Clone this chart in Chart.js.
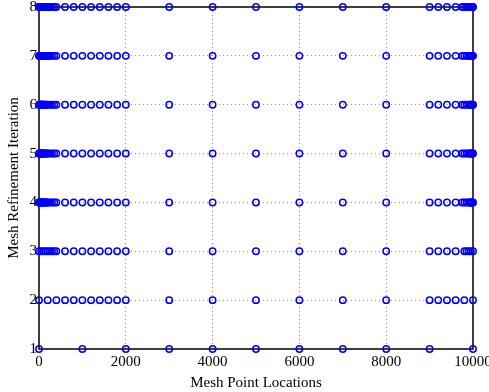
<!DOCTYPE html>
<html>
<head>
<meta charset="utf-8">
<script src="https://cdn.jsdelivr.net/npm/chart.js@4"></script>
<style>
  html, body { margin: 0; padding: 0; background: #fff; }
  #wrap { width: 489px; height: 392px; }
</style>
</head>
<body>
<div id="wrap"><canvas id="myChart" width="489" height="392"></canvas></div>
<script>
// mesh point locations per refinement iteration
const iterations = [1, 2, 3, 4, 5, 6, 7, 8];
const xTicks = [0, 2000, 4000, 6000, 8000, 10000];
const yTicks = [1, 2, 3, 4, 5, 6, 7, 8];

const mesh1 = [0, 1000, 2000, 3000, 4000, 5000, 6000, 7000, 8000, 9000, 10000];
const middle = [3000, 4000, 5000, 6000, 7000, 8000];

const left2 = [0, 200, 400, 600, 800, 1000, 1200, 1400, 1600, 1800, 2000];
const right2 = [9000, 9200, 9400, 9600, 9800, 10000];

const left3 = [0, 50, 100, 150, 200, 250, 300, 350, 400, 600, 800, 1000, 1200, 1400, 1600, 1800, 2000];
const right3 = [9000, 9200, 9400, 9600, 9800, 9850, 9900, 9950, 10000];

const left4 = [0, 10, 20, 30, 40, 50, 60, 70, 80, 90, 100, 120, 140, 160, 180, 200, 250, 300, 350, 400,
    600, 800, 1000, 1200, 1400, 1600, 1800, 2000];
const right4 = [9000, 9200, 9400, 9600, 9750, 9800, 9850, 9900, 9920, 9940, 9960, 9980, 9990, 10000];

const left7 = [0, 5, 10, 15, 20, 30, 40, 50, 60, 70, 80, 90, 100, 120, 140, 160, 180, 200, 220, 250, 300, 350, 400,
    600, 800, 1000, 1200, 1400, 1600, 1800, 2000];

const meshByIteration = [
    mesh1,
    [...left2, ...middle, ...right2],
    [...left3, ...middle, ...right3],
    [...left4, ...middle, ...right4],
    [...left4, ...middle, ...right4],
    [...left4, ...middle, ...right4],
    [...left7, ...middle, ...right4],
    [...left7, ...middle, ...right4],
];

const points = [];
meshByIteration.forEach((xs, i) => {
    xs.forEach(x => points.push({ x: x, y: iterations[i] }));
});

const serif = "'Liberation Serif', 'DejaVu Serif', serif";

// black box round the axes, drawn under the markers
const frame = {
    id: 'frame',
    beforeDatasetsDraw(chart) {
        const a = chart.chartArea;
        const c = chart.ctx;
        c.save();
        c.strokeStyle = '#000';
        c.lineWidth = 1.5;
        c.strokeRect(a.left, a.top, a.right - a.left, a.bottom - a.top);
        c.restore();
    }
};

const inner = (ticks) => (ctx) => {
    const v = ctx.tick && ctx.tick.value;
    return (v === ticks[0] || v === ticks[ticks.length - 1]) ? 'rgba(0,0,0,0)' : '#9a9a9a';
};

new Chart(document.getElementById('myChart'), {
    type: 'scatter',
    data: {
        datasets: [{
            data: points,
            pointStyle: 'circle',
            pointRadius: 3.2,
            pointBorderWidth: 1.5,
            borderColor: '#0000ff',
            backgroundColor: 'rgba(0,0,0,0)',
            clip: false
        }]
    },
    options: {
        responsive: false,
        animation: false,
        events: [],
        plugins: { legend: { display: false }, tooltip: { enabled: false } },
        layout: { padding: 0 },
        scales: {
            x: {
                type: 'linear',
                min: 0,
                max: 10000,
                afterBuildTicks: (s) => { s.ticks = xTicks.map(v => ({ value: v })); },
                afterFit: (s) => { s.height = 43; s.paddingRight = 16; s.paddingLeft = 0; },
                grid: { color: inner(xTicks), lineWidth: 1, drawTicks: false },
                border: { display: false, dash: [1, 3] },
                ticks: { color: '#000', font: { family: serif, size: 15 }, padding: 4, maxRotation: 0,
                    callback: (v) => String(v) },
                title: { display: true, text: 'Mesh Point Locations', color: '#000',
                    font: { family: serif, size: 15 }, padding: { top: 0, bottom: 0 } }
            },
            y: {
                type: 'linear',
                min: 1,
                max: 8,
                afterBuildTicks: (s) => { s.ticks = yTicks.map(v => ({ value: v })); },
                afterFit: (s) => { s.width = 39; s.paddingTop = 7; s.paddingBottom = 0; },
                grid: { color: inner(yTicks), lineWidth: 1, drawTicks: false },
                border: { display: false, dash: [1, 3] },
                ticks: { color: '#000', font: { family: serif, size: 15 }, padding: 2,
                    callback: (v) => String(v) },
                title: { display: true, text: 'Mesh Refinement Iteration', color: '#000',
                    font: { family: serif, size: 15 }, padding: { top: 5, bottom: 0 } }
            }
        }
    },
    plugins: [frame]
});
</script>
</body>
</html>
